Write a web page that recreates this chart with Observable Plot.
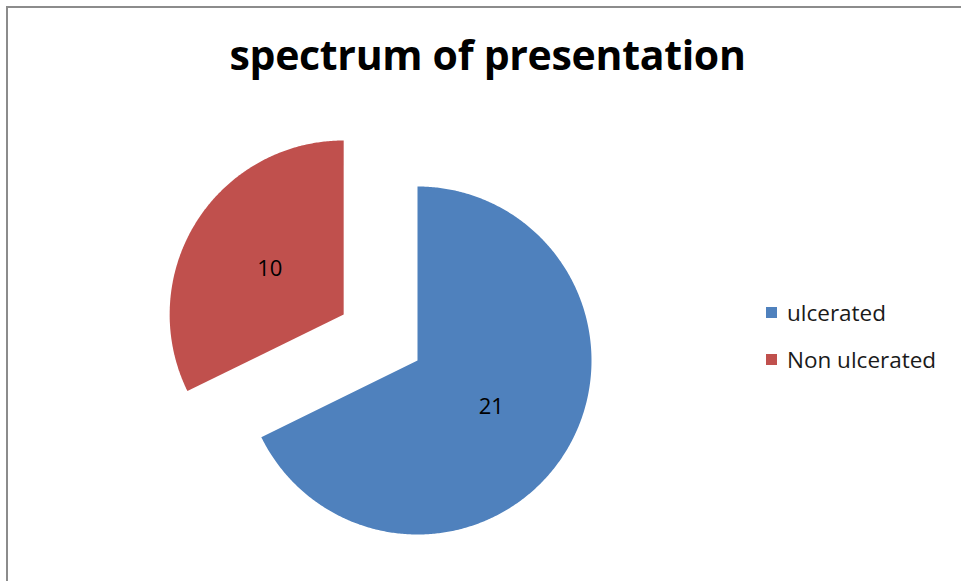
<!DOCTYPE html>
<html>
<head>
<meta charset="utf-8">
<script src="https://cdn.jsdelivr.net/npm/d3@7"></script>
<script src="https://cdn.jsdelivr.net/npm/@observablehq/plot@0.6"></script>
<style>
  html, body { margin: 0; padding: 0; background: #fff; }
  #wrap { position: relative; width: 961px; height: 581px; overflow: hidden; font-family: "Open Sans", sans-serif; }
  #frame { position: absolute; left: 6px; top: 6px; width: 980px; height: 600px; border-left: 2px solid #8c8c8c; border-top: 2px solid #8c8c8c; box-sizing: border-box; }
  #title { position: absolute; left: 0; width: 975px; top: 26px; text-align: center; font-weight: 700; font-size: 41px; color: #000; letter-spacing: -0.3px; }
  #chart { position: absolute; left: 0; top: 0; }
  #legend { position: absolute; left: 766px; top: 289px; font-size: 22.5px; color: #1a1a1a; }
  .item { display: flex; align-items: center; height: 47px; }
  .item span.sw { display: inline-block; width: 11px; height: 11px; margin-right: 10px; }
</style>
</head>
<body>
<div id="wrap">
  <div id="frame"></div>
  <div id="title"></div>
  <div id="chart"></div>
  <div id="legend"></div>
</div>
<script>
// ---- data ----
const title = "spectrum of presentation";
const categories = ["ulcerated", "Non ulcerated"];
const values = [21, 10];
const colors = ["#4F81BD", "#C0504D"];
const exploded = [0, 0.5]; // explosion distance in radius units

// ---- layout ----
const W = 961, H = 581;
const R = 174;              // pixel radius
const cx = 417, cy = 360;   // pie centre in pixels

document.getElementById("title").textContent = title;

// pie angles from data (clockwise from 12 o'clock)
const total = d3.sum(values);
let acc = 0;
const slices = categories.map((c, i) => {
  const a0 = acc / total * 2 * Math.PI;
  acc += values[i];
  const a1 = acc / total * 2 * Math.PI;
  const mid = (a0 + a1) / 2;
  const ox = exploded[i] * Math.sin(mid), oy = -exploded[i] * Math.cos(mid);
  return {category: c, value: values[i], a0, a1, mid, ox, oy};
});

// polygon outline for each slice (unit radius space, y downward)
const pts = [];
for (const s of slices) {
  pts.push({category: s.category, x: s.ox, y: s.oy});
  const n = Math.max(2, Math.ceil((s.a1 - s.a0) / (Math.PI / 360)));
  for (let k = 0; k <= n; k++) {
    const a = s.a0 + (s.a1 - s.a0) * k / n;
    pts.push({category: s.category, x: s.ox + Math.sin(a), y: s.oy - Math.cos(a)});
  }
}
const labels = slices.map(s => ({
  category: s.category, value: s.value,
  x: s.ox + 0.5 * Math.sin(s.mid), y: s.oy - 0.5 * Math.cos(s.mid)
}));

const chart = Plot.plot({
  width: W, height: H,
  margin: 0,
  x: {domain: [-cx / R, (W - cx) / R], range: [0, W], axis: null},
  y: {domain: [-cy / R, (H - cy) / R], range: [0, H], axis: null},
  color: {domain: categories, range: colors},
  style: {background: "transparent", fontFamily: "Open Sans, sans-serif"},
  marks: [
    Plot.line(pts, {x: "x", y: "y", z: "category", fill: "category", stroke: "none", curve: "linear-closed"}),
    Plot.text(labels, {x: "x", y: "y", text: d => String(d.value), fontSize: 22, fill: "#000"})
  ]
});
document.getElementById("chart").appendChild(chart);

// legend
const leg = document.getElementById("legend");
categories.forEach((c, i) => {
  const row = document.createElement("div");
  row.className = "item";
  const sw = document.createElement("span");
  sw.className = "sw";
  sw.style.background = colors[i];
  row.appendChild(sw);
  row.appendChild(document.createTextNode(c));
  leg.appendChild(row);
});
</script>
</body>
</html>
